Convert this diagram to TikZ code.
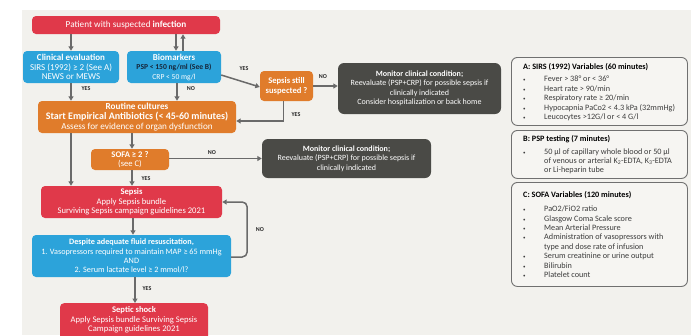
\documentclass[tikz,border=0pt]{standalone}
\usepackage{fontspec}
\setmainfont{Carlito}
\usetikzlibrary{arrows.meta,calc}
\definecolor{cbg}{HTML}{F2F1ED}
\definecolor{cred}{HTML}{E0394A}
\definecolor{cblue}{HTML}{2CA3DA}
\definecolor{corange}{HTML}{E07C2B}
\definecolor{cdark}{HTML}{4A4A46}
\definecolor{carrow}{HTML}{6A6A6A}
\definecolor{cpanel}{HTML}{F6F5F2}
\definecolor{cpborder}{HTML}{707070}
\definecolor{cptext}{HTML}{3C3C3C}
\definecolor{cnavy}{HTML}{16263A}
\newcommand{\pbul}{\makebox[21pt][l]{\fontsize{5}{5}\selectfont\textbullet}}
\newcommand{\pind}{\hspace*{21pt}}
\newcommand{\fs}[1]{\fontsize{#1}{9.5}\selectfont}
\begin{document}
\begin{tikzpicture}[x=1pt,y=-1pt,
  box/.style={rounded corners=4pt, align=center, text=white, inner sep=1pt,
    font=\fontsize{8.6}{9.5}\selectfont},
  redbox/.style={box, fill=cred},
  bluebox/.style={box, fill=cblue},
  orangebox/.style={box, fill=corange},
  darkbox/.style={box, fill=cdark, rounded corners=6pt, font=\fontsize{8}{9.5}\selectfont},
  panel/.style={draw=cpborder, line width=0.9pt, fill=cpanel, rounded corners=6pt,
    minimum width=176pt},
  ptext/.style={align=left, inner sep=0pt, text=cptext, font=\fontsize{8.2}{9.4}\selectfont},
  arr/.style={draw=carrow, line width=1.5pt, -{Triangle[length=4.5pt,width=5pt]}},
  lbl/.style={font=\fontsize{6}{6}\selectfont\bfseries, text=black!85, inner sep=0pt}
]
\useasboundingbox (0,0) rectangle (691,335);
\fill[cbg] (22,10) rectangle (691,335);

% main boxes
\node[redbox, minimum width=188pt, minimum height=18pt, font=\fs{9.2}] (top) at (126,25)
  {Patient with suspected \textbf{infection}};
\node[bluebox, minimum width=96pt, minimum height=32pt, font=\fs{9}] (clin) at (71,67)
  {\textbf{Clinical evaluation}\\SIRS (1992) ≥ 2 (See A)\\NEWS or MEWS};
\node[bluebox, minimum width=94pt, minimum height=32pt, font=\fs{9}] (bio) at (174,67)
  {\textbf{Biomarkers}\\{\fs{7.6}\bfseries\color{cnavy}PSP < 150 ng/ml (See B)}\\{\fs{7.6}CRP < 50 mg/l}};
\node[orangebox, minimum width=198pt, minimum height=32pt, font=\fontsize{9.2}{10}\selectfont] (rout) at (137,117)
  {\textbf{Routine cultures}\\{\fontsize{10}{10}\selectfont\bfseries Start Empirical Antibiotics (< 45-60 minutes)}\\Assess for evidence of organ dysfunction};
\node[orangebox, minimum width=53pt, minimum height=30pt, font=\fs{8.6}\bfseries] (still) at (286.5,86)
  {Sepsis still\\suspected ?};
\node[darkbox, minimum width=163pt, minimum height=51pt] (mon1) at (419.5,88.5)
  {\textbf{Monitor clinical condition;}\\Reevaluate (PSP+CRP) for possible sepsis if\\clinically indicated\\Consider hospitalization or back home};
\node[orangebox, minimum width=78pt, minimum height=21pt] (sofa) at (130,159.5)
  {\textbf{SOFA ≥ 2 ?}\\(see C)};
\node[darkbox, minimum width=169pt, minimum height=39pt] (mon2) at (346.5,158.5)
  {\textbf{Monitor clinical condition;}\\Reevaluate (PSP+CRP) for possible sepsis if\\clinically indicated};
\node[redbox, minimum width=181pt, minimum height=32pt] (sepsis) at (131.5,202)
  {\textbf{Sepsis}\\Apply Sepsis bundle\\Surviving Sepsis campaign guidelines 2021};
\node[bluebox, minimum width=199pt, minimum height=42pt, font=\fontsize{8.2}{9.3}\selectfont] (desp) at (131.5,256)
  {\textbf{Despite adequate fluid resuscitation,}\\1. Vasopressors required to maintain MAP ≥ 65 mmHg\\AND\\2. Serum lactate level ≥ 2 mmol/l?};
\node[redbox, minimum width=148pt, minimum height=44pt, anchor=north] (shock) at (134,303)
  {\textbf{Septic shock}\\Apply Sepsis bundle Surviving Sepsis\\Campaign guidelines 2021\\\strut};

% connectors
\draw[arr] (top.south -| clin.north) -- (clin.north);
\draw[arr] ([xshift=2pt]bio.north |- top.south) -- ([xshift=2pt]bio.north);
\draw[arr] ([xshift=9pt]bio.north) -- ([xshift=9pt]bio.north |- top.south);
\draw[arr] (clin.south) -- (clin.south |- rout.north);
\draw[arr] ([xshift=3pt]bio.south) -- ([xshift=3pt]bio.south |- rout.north);
\draw[arr] ([yshift=-8pt]bio.east) -- ([yshift=-1pt]still.west);
\draw[arr] (still.east) -- (still.east -| mon1.west);
\draw[arr] ([xshift=-3pt]still.south) |- ([yshift=-4pt]rout.east);
\draw[arr] ([xshift=2pt]sofa.north |- rout.south) -- ([xshift=2pt]sofa.north);
\draw[arr] ([yshift=1pt]sofa.east) -- ([yshift=1pt]sofa.east -| mon2.west);
\draw[arr] (rout.south -| clin.south) -- (sepsis.north -| clin.south);
\draw[arr] ([xshift=2pt]sofa.south) -- ([xshift=2pt]sofa.south |- sepsis.north);
\draw[arr] ([xshift=1.5pt]sepsis.south) -- ([xshift=1.5pt]sepsis.south |- desp.north);
\draw[arr, rounded corners=5pt] ([yshift=-1pt]desp.east) -- ++(16,0) |- (sepsis.east);
\draw[arr] ([xshift=3.5pt]desp.south) -- ([xshift=3.5pt]desp.south |- shock.north);

% connector labels
\node[lbl] (l1) at (86,89) {YES};
\node[lbl] (l2) at (191,89) {NO};
\node[lbl] (l3) at (244,69) {YES};
\node[lbl] (l4) at (323,77) {NO};
\node[lbl] (l5) at (296,115) {YES};
\node[lbl] (l6) at (212,153) {NO};
\node[lbl] (l7) at (146,178.5) {YES};
\node[lbl] (l8) at (260,230) {NO};
\node[lbl] (l9) at (147,289) {YES};

% right panels
\node[panel, minimum height=68pt, anchor=north west] (A) at (511,57) {};
\node[ptext, anchor=north west] (At) at ([xshift=12pt,yshift=-6pt]A.north west)
  {{\color{black}\bfseries A: SIRS (1992) Variables (60 minutes)}\\[3.2pt]
   \pbul Fever > 38° or < 36°\\
   \pbul Heart rate > 90/min\\
   \pbul Respiratory rate ≥ 20/min\\
   \pbul Hypocapnia PaCo2 < 4.3 kPa (32mmHg)\\
   \pbul Leucocytes >12G/l or < 4 G/l};
\node[panel, minimum height=48pt, anchor=north west] (B) at (511,130) {};
\node[ptext, anchor=north west] (Bt) at ([xshift=12pt,yshift=-5pt]B.north west)
  {{\color{black}\bfseries B: PSP testing (7 minutes)}\\[3.4pt]
   \pbul 50 µl of capillary whole blood or 50 µl\\
   \pind of venous or arterial K\textsubscript{2}-EDTA, K\textsubscript{3}-EDTA\\
   \pind or Li-heparin tube};
\node[panel, minimum height=104pt, anchor=north west] (C) at (511,182) {};
\node[ptext, anchor=north west] (Ct) at ([xshift=12pt,yshift=-9.5pt]C.north west)
  {{\color{black}\bfseries C: SOFA Variables (120 minutes)}\\[4.6pt]
   \pbul PaO2/FiO2 ratio\\
   \pbul Glasgow Coma Scale score\\
   \pbul Mean Arterial Pressure\\
   \pbul Administration of vasopressors with\\
   \pind type and dose rate of infusion\\
   \pbul Serum creatinine or urine output\\
   \pbul Bilirubin\\
   \pbul Platelet count};
\end{tikzpicture}
\end{document}
